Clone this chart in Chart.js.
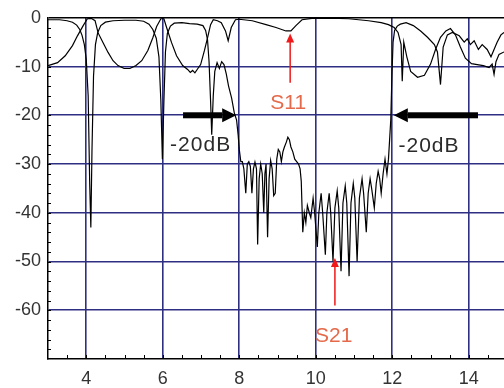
<!DOCTYPE html>
<html>
<head>
<meta charset="utf-8">
<script src="https://cdn.jsdelivr.net/npm/chart.js@4.4.0/dist/chart.umd.min.js"></script>
<style>
html, body { margin: 0; padding: 0; background: #fff; }
</style>
</head>
<body>
<canvas id="sparams" width="504" height="388"></canvas>
<script>
// frequency (GHz) and magnitude (dB)
var s21Freq = [3.00, 3.30, 3.50, 3.64, 3.75, 3.83, 3.89, 3.95, 4.00, 4.05, 4.09, 4.12, 4.15, 4.19, 4.24, 4.30, 4.38, 4.50, 4.70, 5.00,
  5.30, 5.50, 5.64, 5.74, 5.83, 5.90, 5.95, 5.99, 6.03, 6.07, 6.12, 6.20, 6.30, 6.50, 6.70, 6.90, 7.05, 7.12, 7.17, 7.21,
  7.25, 7.28, 7.32, 7.36, 7.42, 7.48, 7.54, 7.60, 7.66, 7.72, 7.80, 7.87, 7.93, 7.97, 8.00, 8.04, 8.08, 8.12, 8.17, 8.21,
  8.25, 8.29, 8.33, 8.37, 8.41, 8.45, 8.48, 8.52, 8.56, 8.60, 8.64, 8.67, 8.70, 8.74, 8.78, 8.82, 8.86, 8.90, 8.94, 8.98,
  9.02, 9.06, 9.10, 9.14, 9.18, 9.23, 9.27, 9.31, 9.35, 9.40, 9.45, 9.50, 9.55, 9.59, 9.62, 9.66, 9.70, 9.74, 9.78, 9.83,
  9.87, 9.93, 9.97, 10.04, 10.08, 10.14, 10.18, 10.25, 10.29, 10.35, 10.39, 10.45, 10.50, 10.56, 10.60, 10.66, 10.71, 10.77, 10.81, 10.87,
  10.92, 10.98, 11.02, 11.08, 11.14, 11.21, 11.25, 11.32, 11.37, 11.42, 11.46, 11.53, 11.58, 11.63, 11.67, 11.71, 11.76, 11.81, 11.86, 11.90,
  11.93, 11.96, 11.99, 12.02, 12.06, 12.13, 12.21, 12.36, 12.55, 12.74, 12.92, 13.10, 13.18, 13.26, 13.33, 13.44, 13.57, 13.75, 13.88, 13.96,
  14.04, 14.14, 14.25, 14.35, 14.48, 14.58, 14.66, 14.74, 14.84, 14.92];
var s21dB = [-0.4, -0.4, -0.6, -0.9, -1.5, -2.4, -3.6, -5.5, -8.5, -16, -34, -43, -27, -12, -5.5, -3.0, -1.6, -0.9, -0.6, -0.5,
  -0.5, -0.7, -1.3, -2.4, -4.2, -8, -17, -29, -17, -7, -3.2, -1.7, -1.1, -1.0, -1.2, -1.3, -1.6, -2.6, -4.5, -9,
  -17, -24, -16, -11, -9.2, -10.4, -9.0, -9.6, -11.5, -14, -16.5, -19.5, -21, -24, -27, -29.5, -29.5, -31, -36, -30,
  -29.5, -30.5, -36, -31, -29.6, -31, -46.5, -33, -30, -32, -40, -32, -30, -45, -33, -29.3, -31, -36.5, -36, -29,
  -27, -27.5, -29.5, -27.5, -26.5, -25.5, -24.5, -25, -26.5, -27.5, -29, -29.5, -30, -31, -33.5, -44, -40, -42, -38.5, -40,
  -41, -37, -40, -47, -40, -36, -40, -48.6, -40, -36, -40, -50, -39, -35.5, -39, -52, -38, -34.5, -38, -53,
  -38, -34, -37, -50, -37, -33, -36, -44, -36, -33, -35, -39, -34, -31.5, -33, -36, -32, -29, -32, -29,
  -25, -21, -12, -5, -2.6, -1.7, -1.3, -1.0, -1.6, -2.7, -4, -5.5, -7, -13.7, -6, -3.5, -3.0, -3.7, -5, -4.3,
  -5.5, -4.7, -6.5, -5.5, -6.5, -8, -6.5, -5, -3.5, -3];

var s11Freq = [3.00, 3.25, 3.45, 3.64, 3.77, 3.92, 4.03, 4.13, 4.23, 4.31, 4.44, 4.57, 4.70, 4.83, 4.99, 5.14, 5.30, 5.45, 5.61, 5.74,
  5.84, 5.95, 6.03, 6.10, 6.23, 6.36, 6.52, 6.65, 6.72, 6.78, 6.84, 6.90, 6.99, 7.09, 7.17, 7.25, 7.32, 7.43, 7.53, 7.64,
  7.71, 7.79, 7.90, 8.00, 8.34, 8.70, 8.96, 9.22, 9.35, 9.48, 9.64, 9.90, 10.34, 10.86, 11.38, 11.71, 11.90, 11.95, 12.05, 12.15,
  12.23, 12.26, 12.30, 12.38, 12.48, 12.66, 12.84, 13.00, 13.13, 13.26, 13.40, 13.52, 13.65, 13.78, 13.91, 14.07, 14.22, 14.38, 14.53, 14.61,
  14.66, 14.71, 14.79, 14.92];
var s11dB = [-9.8, -9.2, -7.8, -5.7, -3.7, -1.6, -0.2, -0.1, -0.6, -3.1, -5.1, -7.1, -8.8, -9.8, -10.4, -10.4, -9.8, -8.8, -6.7, -4.1,
  -1.8, -0.2, -0.2, -2.0, -5.1, -7.8, -9.8, -10.6, -11.2, -10.8, -11.3, -10.6, -9.6, -6.7, -4.1, -1.4, -0.4, -0.6, -1.0, -2.7,
  -4.7, -2.0, -0.4, -0.3, -0.6, -1.4, -2.0, -2.7, -2.7, -1.6, -0.4, -0.1, -0.05, -0.2, -0.6, -1.0, -1.4, -1.6, -2.0, -3.0,
  -5.5, -13, -5, -8, -11, -12.2, -11.8, -9.5, -6.5, -4, -2.7, -2.2, -3.5, -6, -8.3, -9.4, -9.6, -9.8, -10.2, -9.5,
  -11.6, -9.0, -7.5, -7];

var xTicks = [4, 6, 8, 10, 12, 14];
var yTicks = [-60, -50, -40, -30, -20, -10, 0];

function pairs(xs, ys) {
  return xs.map(function (x, i) { return { x: x, y: ys[i] }; });
}

var gridColor = '#2e2e82';

var overlay = {
  id: 'overlay',
  afterDatasetsDraw: function (chart) {
    var ctx = chart.ctx, xs = chart.scales.x, ys = chart.scales.y, a = chart.chartArea;
    ctx.save();
    // minor ticks
    ctx.strokeStyle = '#000';
    ctx.lineWidth = 1;
    for (var v = 3.5; v < 15; v += 0.5) {
      var px = Math.round(xs.getPixelForValue(v)) + 0.5;
      ctx.beginPath(); ctx.moveTo(px, a.bottom); ctx.lineTo(px, a.bottom - 4); ctx.stroke();
    }
    for (var w = -68; w < 0; w += 2) {
      var py = Math.round(ys.getPixelForValue(w)) + 0.5;
      ctx.beginPath(); ctx.moveTo(a.left, py); ctx.lineTo(a.left + 3, py); ctx.stroke();
    }

    function X(v) { return xs.getPixelForValue(v); }
    function Y(v) { return ys.getPixelForValue(v); }

    // fat black horizontal arrows at -20 dB
    function fatArrow(x0, x1, y) {
      var dir = x1 > x0 ? 1 : -1, head = 14;
      ctx.fillStyle = '#000';
      ctx.fillRect(Math.min(x0, x1 - dir * head), y - 3, Math.abs(x1 - dir * head - x0), 6);
      ctx.beginPath();
      ctx.moveTo(x1, y);
      ctx.lineTo(x1 - dir * head, y - 7);
      ctx.lineTo(x1 - dir * head, y + 7);
      ctx.closePath(); ctx.fill();
    }
    fatArrow(X(6.53), X(7.92), Y(-20));
    fatArrow(X(14.24), X(12.04), Y(-20));

    // red marker arrows
    function redArrow(x, yTip, yTail) {
      ctx.strokeStyle = '#f01818'; ctx.fillStyle = '#f01818'; ctx.lineWidth = 1.5;
      ctx.beginPath(); ctx.moveTo(x, yTip + 6); ctx.lineTo(x, yTail); ctx.stroke();
      ctx.beginPath(); ctx.moveTo(x, yTip); ctx.lineTo(x - 4, yTip + 9); ctx.lineTo(x + 4, yTip + 9); ctx.closePath(); ctx.fill();
    }
    redArrow(X(9.33), Y(-3.2), Y(-13.3));
    redArrow(X(10.5), Y(-49.3), Y(-59));

    ctx.textAlign = 'center'; ctx.textBaseline = 'middle';
    ctx.font = '21px "Liberation Sans", Arial, sans-serif';
    ctx.fillStyle = '#e46a4a';
    ctx.fillText('S11', X(9.28), Y(-17.5));
    ctx.fillText('S21', X(10.47), Y(-65.3));

    ctx.fillStyle = '#2a2a2a';
    ctx.letterSpacing = '1px';
    ctx.fillText('-20dB', X(6.99), Y(-26.2));
    ctx.fillText('-20dB', X(12.96), Y(-26.4));
    ctx.restore();
  }
};

new Chart(document.getElementById('sparams'), {
  type: 'line',
  data: {
    datasets: [
      { label: 'S21', data: pairs(s21Freq, s21dB), borderColor: '#000', borderWidth: 1.2, pointRadius: 0, tension: 0 },
      { label: 'S11', data: pairs(s11Freq, s11dB), borderColor: '#000', borderWidth: 1.2, pointRadius: 0, tension: 0 }
    ]
  },
  options: {
    responsive: false,
    animation: false,
    devicePixelRatio: 1,
    layout: { padding: { top: 15, right: 0, left: 0, bottom: 0 } },
    plugins: { legend: { display: false }, tooltip: { enabled: false } },
    scales: {
      x: {
        type: 'linear', min: 3, max: 14.92,
        afterBuildTicks: function (s) { s.ticks = xTicks.map(function (v) { return { value: v }; }); },
        afterFit: function (s) { s.height = 29; },
        grid: { color: gridColor, lineWidth: 1.6, drawTicks: false },
        border: { color: '#000', width: 1.5 },
        ticks: { padding: 9, color: '#333', font: { family: '"Liberation Sans", Arial, sans-serif', size: 18 } }
      },
      y: {
        type: 'linear', min: -70, max: 0,
        afterBuildTicks: function (s) { s.ticks = yTicks.map(function (v) { return { value: v }; }); },
        afterFit: function (s) { s.width = 48; },
        grid: { color: function (c) { return c.tick && c.tick.value === 0 ? '#000' : gridColor; }, lineWidth: 1.6, drawTicks: false },
        border: { color: '#000', width: 1.5 },
        ticks: { padding: 7, color: '#333', font: { family: '"Liberation Sans", Arial, sans-serif', size: 18 } }
      }
    }
  },
  plugins: [overlay]
});
</script>
</body>
</html>
